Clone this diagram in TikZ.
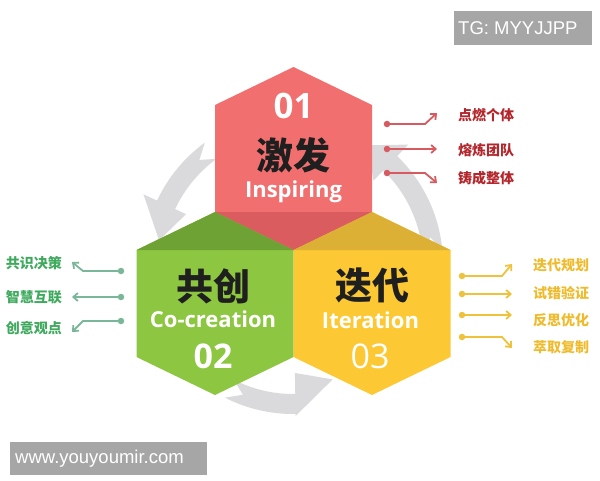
\documentclass[tikz,border=0pt]{standalone}
\usepackage{fontspec}
\setmainfont{Open Sans}
\newfontfamily\cjk{Noto Sans CJK SC}
\newfontfamily\wm{Liberation Sans}
\usepackage{tikz}
\usetikzlibrary{arrows.meta, calc}
\usepackage{xcolor}
\definecolor{rosso}{HTML}{F26F70}
\definecolor{rossoscuro}{HTML}{DA5C5E}
\definecolor{verde}{HTML}{8DC640}
\definecolor{verdescuro}{HTML}{6FA234}
\definecolor{giallo}{HTML}{FCC934}
\definecolor{gialloscuro}{HTML}{DCB035}
\definecolor{grigio}{HTML}{DADADC}
\definecolor{rossotesto}{HTML}{B3262B}
\definecolor{rossofreccia}{HTML}{D65A60}
\definecolor{verdetesto}{HTML}{3FA95E}
\definecolor{verdefreccia}{HTML}{7AB79A}
\definecolor{giallotesto}{HTML}{EFBB2E}
\definecolor{giallofreccia}{HTML}{EFC23B}
\definecolor{marchiogrigio}{HTML}{A6A6A6}
\newcommand{\esagono}[2]{
\fill[#2] ($(#1)+(0,-\punta)$) -- ++(\semilargh,{\punta-\semilato}) -- ++(0,{2*\semilato}) -- ++(-\semilargh,{\punta-\semilato}) -- ++(-\semilargh,{\semilato-\punta}) -- ++(0,{-2*\semilato}) -- cycle;
}
\newcommand{\frecciaGrigia}[6]{
\fill[grigio] (#1:\rEst) arc[start angle=#1, end angle=#2, radius=\rEst] -- (#2:#5) -- (#3:#6) -- (#2:#4) -- (#2:\rInt) arc[start angle=#2, end angle=#1, radius=\rInt] -- ({#1-6}:\rMed) -- cycle;
}

\begin{document}
\begin{tikzpicture}[x=1pt, y=-1pt,
    numero/.style={text=white, font=\bfseries\fontsize{35}{35}\selectfont, anchor=base},
    titolo/.style={text=black!88, font=\cjk\bfseries\fontsize{37}{37}\selectfont},
    inglese/.style={text=white, font=\bfseries\fontsize{22}{22}\selectfont, anchor=base},
    voce/.style={font=\cjk\bfseries\fontsize{14}{14}\selectfont, inner sep=0pt},
    punto/.style={circle, inner sep=0pt, minimum size=6.5pt},
    freccia/.style={line width=1.8pt, -{Straight Barb[length=4.5pt, width=8pt]}},
    marchio/.style={text=white, font=\wm\fontsize{18.5}{18.5}\selectfont, inner sep=0pt, anchor=west}]
    \useasboundingbox (0,0) rectangle (600,480);
    \pgfmathsetmacro{\semilargh}{78.5}
    \pgfmathsetmacro{\semilato}{53.5}
    \pgfmathsetmacro{\punta}{91.5}
    \pgfmathsetmacro{\rEst}{150}
    \pgfmathsetmacro{\rInt}{130}
    \pgfmathsetmacro{\rMed}{140}
    \coordinate (Centro) at (293,264);
    \coordinate (C1) at (293.5,158.5);
    \coordinate (C2) at (215,303.5);
    \coordinate (C3) at (372,303.5);
    % Frecce grigie
    \begin{scope}[shift={(Centro)}]
        \frecciaGrigia{-126}{-155}{-170}{118}{165}{136}
        \frecciaGrigia{-243}{-271}{-289}{109}{152}{122}
        \frecciaGrigia{-5}{-46}{-58}{116}{166}{140}
    \end{scope}
    % Esagoni
    \esagono{C1}{rosso}
    \esagono{C2}{verde}
    \esagono{C3}{giallo}
    \fill[rossoscuro] ($(C1)+(-\semilargh,\semilato)$) -- ($(C1)+(\semilargh,\semilato)$) -- ($(C1)+(0,\punta)$) -- cycle;
    \fill[verdescuro] ($(C2)+(-\semilargh,-\semilato)$) -- ($(C2)+(0,-\punta)$) -- ($(C2)+(\semilargh,-\semilato)$) -- cycle;
    \fill[gialloscuro] ($(C3)+(-\semilargh,-\semilato)$) -- ($(C3)+(0,-\punta)$) -- ($(C3)+(\semilargh,-\semilato)$) -- cycle;
    % Testi
    \node[numero] (n1) at (293.5,118) {01};
    \node[titolo] (t1) at (293.5,155) {激发};
    \node[inglese] (e1) at (293.5,197) {Inspiring};
    \node[titolo] (t2) at (213,286.5) {共创};
    \node[inglese] (e2) at (213,327) {Co-creation};
    \node[numero, font=\bfseries\fontsize{34}{34}\selectfont] (n2) at (213,368) {02};
    \node[titolo] (t3) at (372,285.5) {迭代};
    \node[inglese] (e3) at (370.5,328) {Iteration};
    \node[numero, font=\fontsize{34}{34}\selectfont] (n3) at (370,368) {03};
    % Voci laterali
    \foreach \y/\dy/\ty/\testo [count=\i] in {124/-11/115/点燃个体, 149/0/150/熔炼团队, 173/10/178/铸成整体}{
        \node[punto, fill=rossofreccia] (rp\i) at (387,\y) {};
        \coordinate (re\i) at (437,{\y+\dy});
        \draw[freccia, rossofreccia] (rp\i.center) -- ++(38,0) -- (re\i);
        \node[voce, text=rossotesto, anchor=west] (rt\i) at (458,\ty) {\testo};
    }
    \foreach \y/\dy/\ty/\testo [count=\i] in {271/-9/263/共识决策, 297/0/297/智慧互联, 321/11/328/创意观点}{
        \node[punto, fill=verdefreccia] (vp\i) at (121,\y) {};
        \coordinate (ve\i) at (72,{\y+\dy});
        \draw[freccia, verdefreccia] (vp\i.center) -- ++(-38,0) -- (ve\i);
        \node[voce, text=verdetesto, anchor=east] (vt\i) at (62,\ty) {\testo};
    }
    \foreach \y/\dy/\ty/\testo [count=\i] in {276/-12/265/迭代规划, 294/0/293/试错验证, 315/0/320/反思优化, 337/11/347/萃取复制}{
        \node[punto, fill=giallofreccia] (gp\i) at (462,\y) {};
        \coordinate (ge\i) at (512,{\y+\dy});
        \draw[freccia, giallofreccia] (gp\i.center) -- ++(40,0) -- (ge\i);
        \node[voce, text=giallotesto, anchor=west] (gt\i) at (533,\ty) {\testo};
    }
    % Marchi
    \fill[marchiogrigio] (454,11) rectangle (592,45);
    \node[marchio] (tg) at (458,28) {TG: MYYJJPP};
    \fill[marchiogrigio] (10,442) rectangle (207,475);
    \node[marchio] (www) at (15,458.5) {www.youyoumir.com};
\end{tikzpicture}
\end{document}
